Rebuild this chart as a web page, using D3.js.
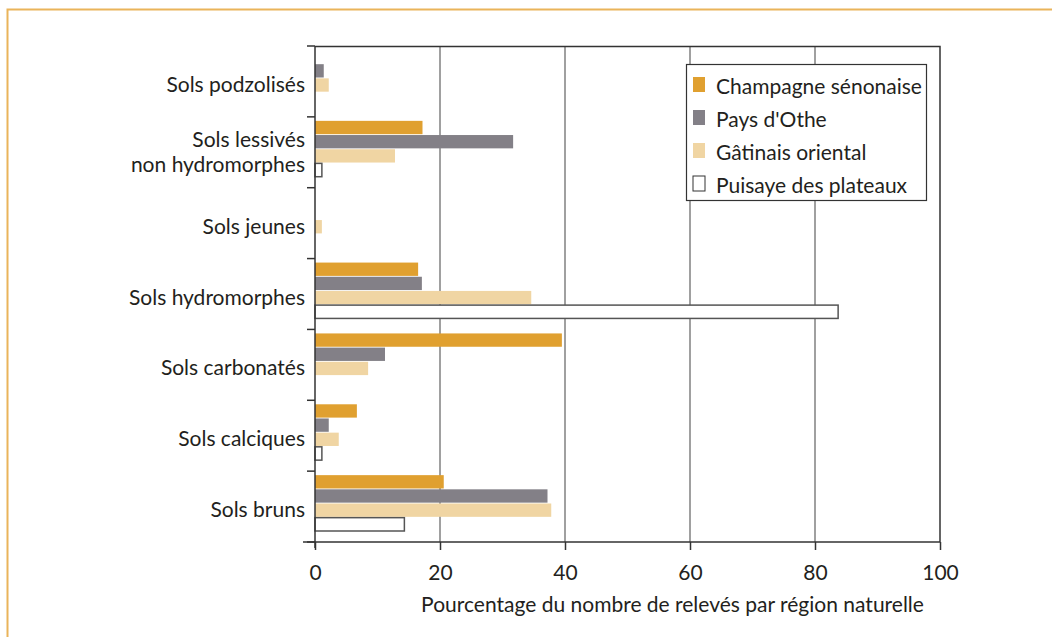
<!DOCTYPE html>
<html>
<head>
<meta charset="utf-8">
<script src="https://cdn.jsdelivr.net/npm/d3@7"></script>
<style>
  body { margin: 0; background: #fff; }
  text { font-family: Lato, 'Open Sans', sans-serif; fill: #231f20; }
</style>
</head>
<body>
<div id="chart"></div>
<script>
let categories = [
  ['Sols podzolisés'],
  ['Sols lessivés', 'non hydromorphes'],
  ['Sols jeunes'],
  ['Sols hydromorphes'],
  ['Sols carbonatés'],
  ['Sols calciques'],
  ['Sols bruns']
]
let seriesNames = ['Champagne sénonaise', "Pays d'Othe", 'Gâtinais oriental', 'Puisaye des plateaux']
let champagne = [0, 17.2, 0, 16.5, 39.5, 6.7, 20.6]
let othe = [1.4, 31.7, 0, 17.1, 11.2, 2.2, 37.2]
let gatinais = [2.2, 12.8, 1.1, 34.6, 8.5, 3.8, 37.8]
let puisaye = [0, 1.1, 0, 83.7, 0, 1.1, 14.3]
let xTicks = [0, 20, 40, 60, 80, 100]

let fills = ['#e0a030', '#838087', '#f0d5a3', '#ffffff']
let strokes = ['none', 'none', 'none', '#555']

let W = 1052
let H = 637
let margin = { top: 46, left: 315, right: 112, bottom: 95 }
let width = W - margin.left - margin.right
let height = H - margin.top - margin.bottom
let fs = 21

let svg = d3.select('#chart').append('svg')
  .attr('width', W)
  .attr('height', H)

// orange frame
svg.append('path')
  .attr('d', `M7.5,${H + 5} V9.5 H${W + 5}`)
  .attr('fill', 'none')
  .attr('stroke', '#eab45a')
  .attr('stroke-width', 2)

let g = svg.append('g').attr('transform', `translate(${margin.left},${margin.top})`)

let x = d3.scaleLinear().domain([0, 100]).range([0, width])
let y = d3.scaleBand().domain(d3.range(categories.length)).range([0, height])
let inner = d3.scaleBand().domain(d3.range(4)).range([4, y.bandwidth() - 11]).paddingInner(0.06)

// grid
g.selectAll('.grid')
  .data(xTicks.slice(1, -1))
  .enter().append('line')
  .attr('x1', d => x(d)).attr('x2', d => x(d))
  .attr('y1', 0).attr('y2', height)
  .attr('stroke', '#6d6d6d')
  .attr('stroke-width', 1.3)

// bars
let rows = categories.map((c, i) => [champagne[i], othe[i], gatinais[i], puisaye[i]])
let groups = g.selectAll('.cat')
  .data(rows)
  .enter().append('g')
  .attr('transform', (d, i) => `translate(0,${y(i)})`)

groups.selectAll('rect')
  .data(d => d.map((v, k) => ({ v, k })).filter(d => d.v > 0))
  .enter().append('rect')
  .attr('x', x(0))
  .attr('y', d => inner(d.k))
  .attr('height', inner.bandwidth())
  .attr('width', d => x(d.v) - x(0))
  .attr('fill', d => fills[d.k])
  .attr('stroke', d => strokes[d.k])
  .attr('stroke-width', 1.5)

// frame top/right
g.append('path')
  .attr('d', `M0,0.5 H${width} V${height}`)
  .attr('fill', 'none')
  .attr('stroke', '#333')
  .attr('stroke-width', 1.5)

// x axis
let xAxis = g.append('g')
  .attr('transform', `translate(0,${height})`)
  .call(d3.axisBottom(x).tickValues(xTicks).tickSize(8).tickPadding(15))
xAxis.select('.domain').remove()
xAxis.append('line').attr('x1', -12).attr('x2', width).attr('stroke', '#333').attr('stroke-width', 1.5)
xAxis.selectAll('.tick line').attr('stroke', '#333').attr('stroke-width', 1.5)
xAxis.selectAll('.tick text').attr('font-size', fs).attr('fill', '#231f20')
  .style('font-family', 'Lato, sans-serif')

// y axis
let yEdges = d3.range(categories.length + 1).map(i => i * y.step())
g.append('line').attr('x1', 0).attr('x2', 0).attr('y1', 0).attr('y2', height + 6)
  .attr('stroke', '#333').attr('stroke-width', 1.5)
g.selectAll('.ytick')
  .data(yEdges)
  .enter().append('line')
  .attr('x1', -8).attr('x2', 0)
  .attr('y1', d => d).attr('y2', d => d)
  .attr('stroke', '#333').attr('stroke-width', 1.5)

let labels = g.selectAll('.ylab')
  .data(categories)
  .enter().append('text')
  .attr('x', -10)
  .attr('y', (d, i) => y(i) + y.bandwidth() / 2)
  .attr('text-anchor', 'end')
  .attr('font-size', fs)
labels.selectAll('tspan')
  .data(d => d.map((t, j) => ({ t, j, n: d.length })))
  .enter().append('tspan')
  .attr('x', -10)
  .attr('dy', d => d.j === 0 ? (d.n > 1 ? '-0.24em' : '0.5em') : '1.2em')
  .text(d => d.t)

// axis title
g.append('text')
  .attr('x', width / 2 + 45)
  .attr('y', height + 70)
  .attr('text-anchor', 'middle')
  .attr('font-size', fs)
  .text('Pourcentage du nombre de relevés par région naturelle')

// legend
let legend = svg.append('g').attr('transform', 'translate(686,64)')
legend.append('rect')
  .attr('x', 0.5).attr('y', 0.5)
  .attr('width', 240).attr('height', 136)
  .attr('fill', '#fff')
  .attr('stroke', '#333')
  .attr('stroke-width', 1.2)
let items = legend.selectAll('.item')
  .data(seriesNames)
  .enter().append('g')
  .attr('transform', (d, i) => `translate(0,${22 + i * 33})`)
items.append('rect')
  .attr('x', 7).attr('y', -9)
  .attr('width', 12).attr('height', 15)
  .attr('fill', (d, i) => fills[i])
  .attr('stroke', (d, i) => strokes[i] === 'none' ? 'none' : '#333')
  .attr('stroke-width', 1)
items.append('text')
  .attr('x', 30)
  .attr('y', 0)
  .attr('dy', '0.38em')
  .attr('font-size', fs)
  .text(d => d)
</script>
</body>
</html>
